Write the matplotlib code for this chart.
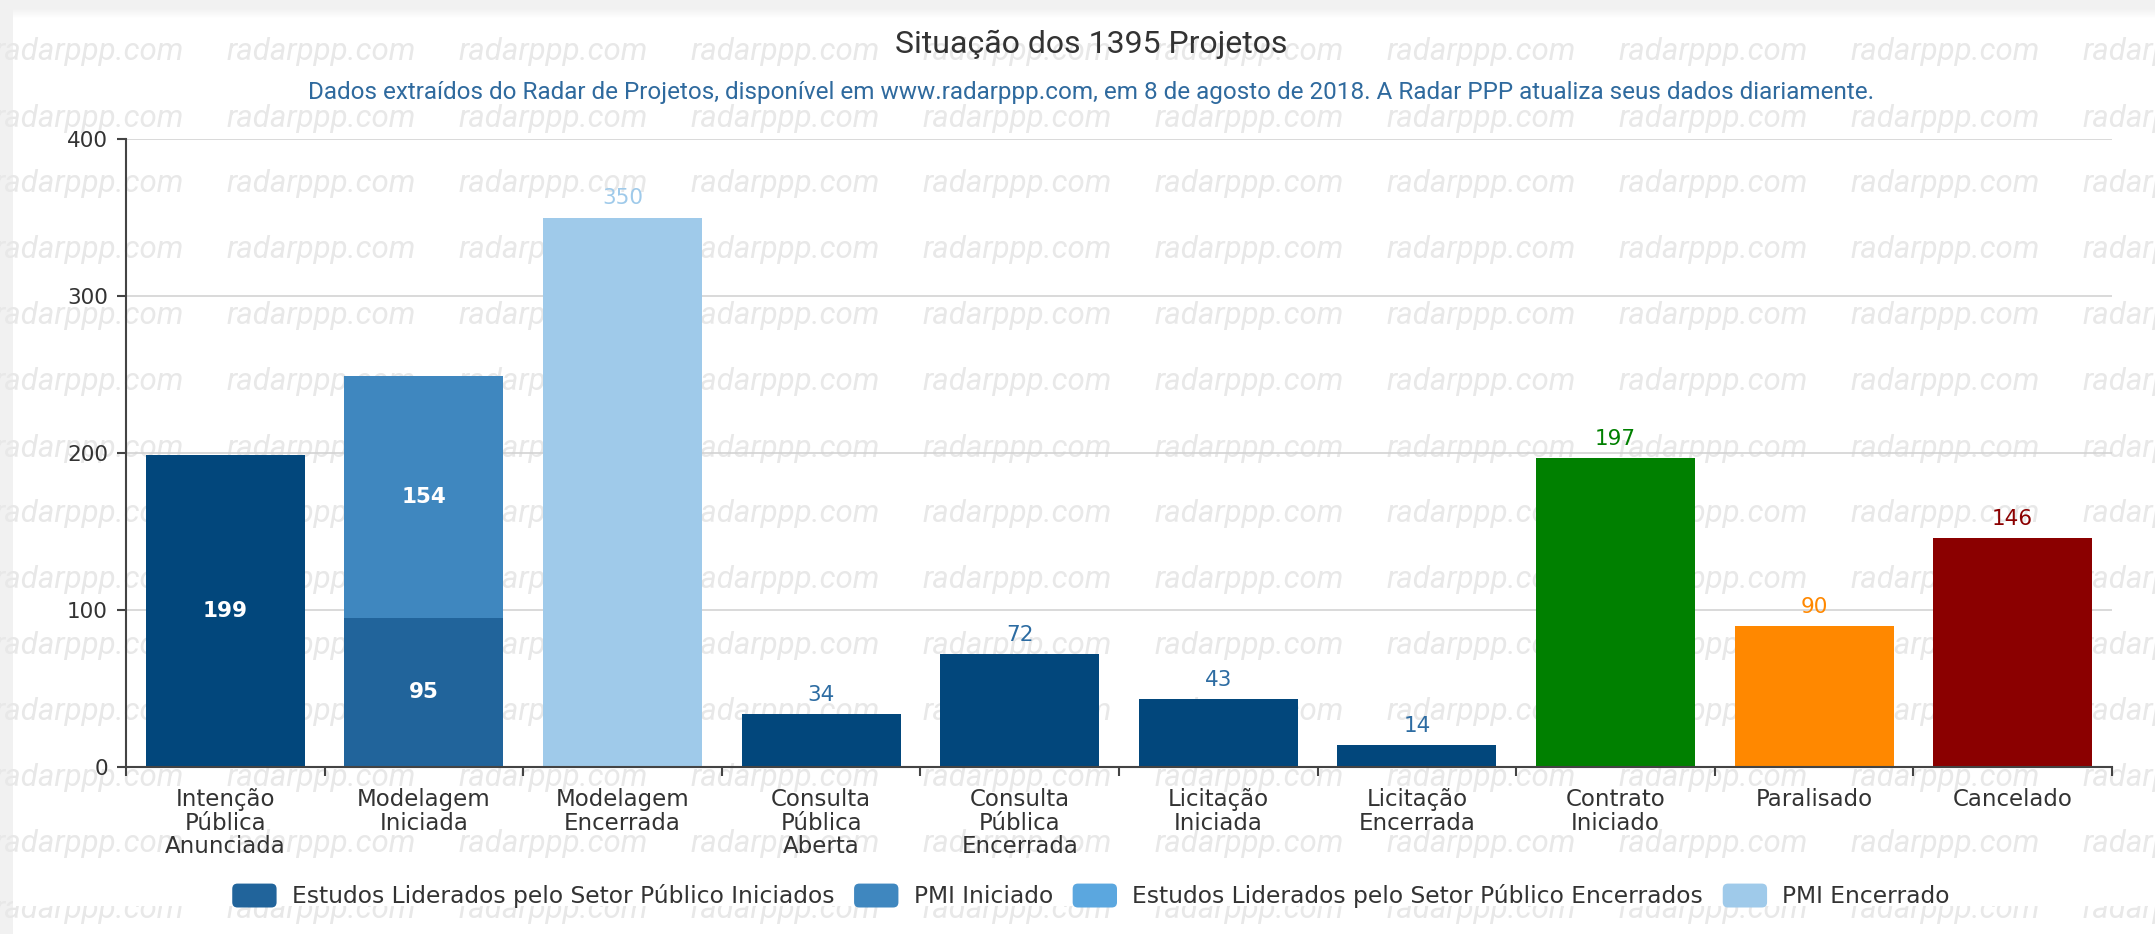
import matplotlib
matplotlib.use('Agg')
import matplotlib.pyplot as plt
from matplotlib.patches import Rectangle, FancyBboxPatch, Patch
from matplotlib.legend_handler import HandlerPatch
import numpy as np

# dados (Radar PPP, 8 ago 2018)
categorias = ["Intenção\nPública\nAnunciada", "Modelagem\nIniciada", "Modelagem\nEncerrada",
              "Consulta\nPública\nAberta", "Consulta\nPública\nEncerrada", "Licitação\nIniciada",
              "Licitação\nEncerrada", "Contrato\nIniciado", "Paralisado", "Cancelado"]
outros = [199, 0, 0, 34, 72, 43, 14, 0, 0, 0]
estudos_iniciados = [0, 95, 0, 0, 0, 0, 0, 0, 0, 0]
pmi_iniciado = [0, 154, 0, 0, 0, 0, 0, 0, 0, 0]
estudos_encerrados = [0, 0, 0, 0, 0, 0, 0, 0, 0, 0]
pmi_encerrado = [0, 0, 350, 0, 0, 0, 0, 0, 0, 0]
finais = [0, 0, 0, 0, 0, 0, 0, 197, 90, 146]

nomes_legenda = ["Estudos Liderados pelo Setor Público Iniciados", "PMI Iniciado",
                 "Estudos Liderados pelo Setor Público Encerrados", "PMI Encerrado"]

cor_outros = '#02477c'
cores_legenda = ['#21649b', '#3f87bf', '#5ba7df', '#9fcaea']
cores_finais = [cor_outros] * 7 + ['#008000', '#ff8800', '#8b0000']
cor_texto = '#333333'

W, H = 2155, 934
fig = plt.figure(figsize=(W / 100, H / 100), dpi=100)
fig.patch.set_facecolor('white')

# moldura cinza da pagina
fig.add_artist(Rectangle((0, 1 - 8 / H), 1, 8 / H, transform=fig.transFigure,
                         fc='#f1f1f1', ec='none', zorder=-3))
for k in range(10):
    g = 0.945 + 0.055 * k / 10
    fig.add_artist(Rectangle((0, 1 - (9 + k) / H), 1, 1 / H, transform=fig.transFigure,
                             fc=(g, g, g), ec='none', zorder=-3))
fig.add_artist(Rectangle((0, 0), 13 / W, 1, transform=fig.transFigure,
                         fc='#f1f1f1', ec='none', zorder=-3))

# marca d'agua
for r in range(14):
    yy = 52 + 66 * r
    for c in range(10):
        xx = -5 + 232 * c
        fig.text(xx / W, 1 - yy / H, 'radarppp.com', fontsize=22.5, family='Roboto',
                 style='italic', color='#e8e8e8', ha='left', va='center', zorder=-1)

# faixa branca atras da legenda
fig.add_artist(Rectangle((13 / W, 1 - 906 / H), 1, 44 / H, transform=fig.transFigure,
                         fc='white', ec='none', zorder=-0.5))

ax = fig.add_axes([126 / W, 1 - 767 / H, (2112 - 126) / W, (767 - 139) / H])
ax.patch.set_alpha(0)

x = np.arange(len(categorias))
larg = 0.8
base = np.zeros(len(categorias))
c0 = ax.bar(x, outros, larg, bottom=base, color=cor_outros)
base += outros
c1 = ax.bar(x, estudos_iniciados, larg, bottom=base, color=cores_legenda[0])
base += estudos_iniciados
c2 = ax.bar(x, pmi_iniciado, larg, bottom=base, color=cores_legenda[1])
base += pmi_iniciado
c3 = ax.bar(x, estudos_encerrados, larg, bottom=base, color=cores_legenda[2])
base += estudos_encerrados
c4 = ax.bar(x, pmi_encerrado, larg, bottom=base, color=cores_legenda[3])
base += pmi_encerrado
c5 = ax.bar(x, finais, larg, bottom=base, color=cores_finais)


def rotulos(cont, vals, idx, tipo, cor, **kw):
    labels = [str(v) if i in idx else '' for i, v in enumerate(vals)]
    txts = ax.bar_label(cont, labels=labels, label_type=tipo, fontsize=15.5, **kw)
    for i, t in enumerate(txts):
        t.set_color(cor[i] if isinstance(cor, list) else cor)


rotulos(c0, outros, [0], 'center', 'white', fontweight='bold')
rotulos(c1, estudos_iniciados, [1], 'center', 'white', fontweight='bold')
rotulos(c2, pmi_iniciado, [1], 'center', 'white', fontweight='bold')
rotulos(c0, outros, [3, 4, 5, 6], 'edge', '#2d6ca2', padding=6.5)
rotulos(c4, pmi_encerrado, [2], 'edge', '#9fcaea', padding=6.5)
rotulos(c5, finais, [7, 8, 9], 'edge', cores_finais, padding=6.5)

ax.set_xlim(-0.5, len(categorias) - 0.5)
ax.set_ylim(0, 400)
ax.set_yticks([0, 100, 200, 300, 400])
ax.set_xticks(x)
ax.set_xticklabels(categorias, fontsize=16.5, color=cor_texto, linespacing=1.04, va='top')
ax.set_xticks(np.arange(-0.5, len(categorias), 1), minor=True)
ax.tick_params(axis='x', which='major', length=0, pad=15)
ax.tick_params(axis='x', which='minor', length=6.5, width=1.5, color='#444444')
ax.tick_params(axis='y', length=6.5, width=1.5, color='#444444', labelsize=15.5,
               labelcolor=cor_texto, pad=6.5)
for s in ['top', 'right']:
    ax.spines[s].set_visible(False)
for s in ['left', 'bottom']:
    ax.spines[s].set_color('#444444')
    ax.spines[s].set_linewidth(1.5)
ax.yaxis.grid(True, color='#d3d3d3', linewidth=1.2)
ax.set_axisbelow(True)

fig.text(1091 / W, 1 - 44 / H, 'Situação dos 1395 Projetos', ha='center', va='center',
         fontsize=23, family='Roboto', color=cor_texto)
fig.text(1091 / W, 1 - 93 / H,
         'Dados extraídos do Radar de Projetos, disponível em www.radarppp.com, em 8 de agosto '
         'de 2018. A Radar PPP atualiza seus dados diariamente.',
         ha='center', va='center', fontsize=17.5, family='Roboto', color='#2f6a9e')


class CaixaRedonda(HandlerPatch):
    def create_artists(self, legend, orig_handle, xdescent, ydescent, width, height,
                       fontsize, trans):
        p = FancyBboxPatch((-xdescent, -ydescent), width, height,
                           boxstyle="round,pad=0,rounding_size=%f" % (height * 0.22),
                           fc=orig_handle.get_facecolor(), ec='none', transform=trans)
        return [p]


handles = [Patch(facecolor=c, label=n) for c, n in zip(cores_legenda, nomes_legenda)]
leg = fig.legend(handles=handles, loc='center', bbox_to_anchor=(1091 / W, 1 - 896 / H),
                 ncol=4, frameon=False, fontsize=16.8, handlelength=1.9, handleheight=1.2,
                 handletextpad=0.65, columnspacing=0.85, handler_map={Patch: CaixaRedonda()})
for t in leg.get_texts():
    t.set_color(cor_texto)

fig.savefig('out.png', dpi=100)
